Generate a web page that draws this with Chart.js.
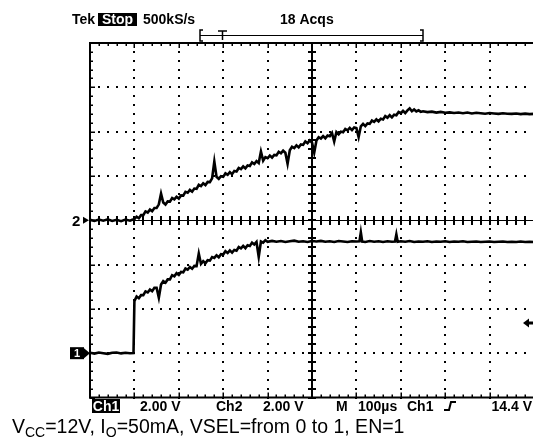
<!DOCTYPE html>
<html>
<head>
<meta charset="utf-8">
<script src="https://cdn.jsdelivr.net/npm/chart.js@4.4.1/dist/chart.umd.min.js"></script>
<style>
html,body{margin:0;padding:0;background:#fff;overflow:hidden;width:533px;height:442px;}
#wrap{position:absolute;left:0;top:0;width:540px;height:442px;}
</style>
</head>
<body>
<div id="wrap"><canvas id="c"></canvas></div>
<script>
// ---- data (time in microseconds, 100 us/div; volts, 2 V/div) ----
const ch1Times = [0,10,20,30,40,50,60,70,80,90,98,100,
  105,110,115,120,125,130,135,140,145,150,155,160,165,170,175,180,185,190,195,
  200,205,210,215,220,225,230,235,240,245,250,255,260,265,270,275,280,285,290,295,
  300,305,310,315,320,325,330,335,340,345,350,355,360,365,370,375,380,385,390,395,400,
  410,420,430,440,450,460,470,480,490,500,
  510,520,530,540,550,560,570,580,590,600,
  607,610,613,620,630,640,650,660,670,680,
  687,690,693,700,710,720,730,740,750,760,
  770,780,790,800,810,820,830,840,850,860,
  870,880,890,900,910,920,930,940,950,960,
  970,980,990,1000];

const ch1Volts = [0.02,-0.02,0.03,0,-0.03,0.02,0.03,-0.01,0.02,0,0.01,2.35,
  2.56,2.48,2.62,2.62,2.79,2.74,2.87,2.8,2.95,2.95,2.5,3.1,3.25,3.18,3.33,3.33,3.52,3.47,3.61,
  3.53,3.67,3.65,3.82,3.77,3.89,3.81,3.94,3.93,4.5,4.03,4.15,4.06,4.2,4.18,4.34,4.3,4.42,4.33,4.47,
  4.45,4.6,4.52,4.64,4.54,4.66,4.63,4.79,4.73,4.84,4.74,4.87,4.84,4.99,4.91,5.02,4.35,5.04,4.99,5.1,5.03,
  5.07,5.03,5.06,5.02,5.05,5.08,5.03,5.05,5.02,5.06,
  5.04,5.07,5.03,5.05,5.02,5.06,5.04,5.02,5.05,5.04,
  5.05,5.45,5.04,5.02,5.06,5.03,5.05,5.02,5.05,5.03,
  5.04,5.36,5.03,5.05,5.03,5.06,5.02,5.04,5.03,5.05,
  5.02,5.04,5.03,5.05,5.02,5.04,5.03,5.05,5.02,5.03,
  5.04,5.02,5.03,5.04,5.02,5.03,5.04,5.02,5.03,5.02,
  5.04,5.02,5.03,5.02];

const ch2Times = [0,10,20,30,40,50,60,70,80,90,95,
  100,105,110,115,120,125,130,135,140,145,150,155,160,165,170,175,180,185,190,195,
  200,205,210,215,220,225,230,235,240,245,250,255,260,265,270,275,280,285,290,295,
  300,305,310,315,320,325,330,335,340,345,350,355,360,365,370,375,380,385,390,395,
  400,405,410,415,420,425,430,435,440,445,450,455,460,465,470,475,480,485,490,495,
  500,505,510,515,520,525,530,535,540,545,550,555,560,565,570,575,580,585,590,595,
  600,605,610,615,620,625,630,635,640,645,650,655,660,665,670,675,680,685,690,695,
  700,705,710,715,720,725,730,735,740,745,750,
  760,770,780,790,800,810,820,830,840,850,860,870,880,890,900,
  910,920,930,940,950,960,970,980,990,1000];

const ch2Volts = [0.02,-0.03,0.03,-0.02,0.04,-0.03,0.02,-0.04,0.03,-0.02,0.02,
  0.05,0.16,0.09,0.23,0.23,0.4,0.35,0.48,0.41,0.55,0.55,0.72,1.2,0.8,0.71,0.85,0.84,1.0,0.94,1.06,
  0.98,1.12,1.11,1.28,1.24,1.37,1.29,1.43,1.42,1.6,1.54,1.67,1.59,1.73,1.72,1.89,2.65,1.96,1.87,1.99,
  1.96,2.12,2.05,2.17,2.08,2.22,2.2,2.36,2.31,2.43,2.34,2.47,2.45,2.61,2.54,2.67,2.58,3.1,2.69,2.85,
  2.8,2.92,2.83,2.95,2.93,3.09,3.02,3.14,3.05,2.55,3.16,3.32,3.26,3.38,3.29,3.42,3.4,3.56,3.48,3.6,
  3.51,3.05,3.6,3.75,3.69,3.8,3.7,3.82,3.79,3.94,3.55,3.98,3.88,4.0,3.97,4.12,4.06,4.17,4.07,4.19,
  4.16,3.75,4.24,4.35,4.25,4.37,4.35,4.5,4.44,4.55,4.46,4.58,4.55,4.7,4.63,4.74,4.64,4.76,4.74,4.89,
  4.83,4.94,4.84,4.96,5.05,4.92,5.0,4.91,4.96,4.89,4.92,
  4.88,4.9,4.86,4.89,4.85,4.87,4.84,4.86,4.83,4.86,4.82,4.85,4.83,4.81,4.84,
  4.82,4.8,4.83,4.81,4.8,4.82,4.79,4.81,4.79,4.8];

const topLabels = ["Tek", "Stop", "500kS/s", "18 Acqs"];
const bottomLabels = ["Ch1", "2.00 V", "Ch2", "2.00 V", "M", "100\u00b5s", "Ch1", "14.4 V"];

// ---- graticule / annotations plugin ----
const scopePlugin = {
  id: 'scope',
  beforeDatasetsDraw(chart) {
    const ctx = chart.ctx, xs = chart.scales.x, ys = chart.scales.y2;
    const a = chart.chartArea;
    const X = v => xs.getPixelForValue(v);
    const Y = v => ys.getPixelForValue(v);
    ctx.save();
    ctx.fillStyle = '#000';
    for (let i = 1; i <= 9; i++) {
      if (i === 5) continue;
      const x = Math.round(X(i * 100));
      for (let m = -20; m <= 20; m++) {
        const y = Math.round(Y(m * 0.4));
        ctx.fillRect(x - 1, y - 1, 2, 2);
      }
    }
    for (let j = -3; j <= 3; j++) {
      if (j === 0) continue;
      const y = Math.round(Y(j * 2));
      for (let m = 0; m <= 50; m++) {
        const x = Math.round(X(m * 20));
        ctx.fillRect(x - 1, y - 1, 2, 2);
      }
    }
    const y0 = Math.round(Y(0));
    ctx.fillRect(a.left, y0, a.right - a.left, 1);
    for (let m = 0; m <= 50; m++) {
      const x = Math.round(X(m * 20));
      ctx.fillRect(x - 1, y0 - 4, 2, 9);
    }
    const x0 = Math.round(X(500));
    ctx.fillRect(x0 - 1, a.top, 2, a.bottom - a.top);
    for (let m = -20; m <= 20; m++) {
      const y = Math.round(Y(m * 0.4));
      ctx.fillRect(x0 - 4, y - 1, 8, 2);
    }
    ctx.fillRect(a.left - 1, a.top - 1, 2, a.bottom - a.top + 2);
    ctx.fillRect(a.left - 1, a.top - 1, a.right - a.left + 2, 2);
    ctx.fillRect(a.left - 1, a.bottom - 1, a.right - a.left + 2, 2);
    for (let m = 0; m <= 50; m++) {
      const x = Math.round(X(m * 20));
      const len = (m % 5 === 0) ? 5 : 3;
      ctx.fillRect(x - 0.5, a.top, 1.5, len);
      ctx.fillRect(x - 0.5, a.bottom - len, 1.5, len);
    }
    for (let m = -20; m <= 20; m++) {
      const y = Math.round(Y(m * 0.4));
      const len = (m % 5 === 0) ? 5 : 3;
      ctx.fillRect(a.left, y - 0.5, len, 1.5);
    }
    ctx.restore();
  },
  afterDraw(chart) {
    const ctx = chart.ctx, y1 = chart.scales.y1, y2 = chart.scales.y2;
    ctx.save();
    ctx.fillStyle = '#000';
    ctx.strokeStyle = '#000';
    ctx.textBaseline = 'alphabetic';
    const F = 'bold 14px "Liberation Sans", Arial, sans-serif';
    ctx.font = F;
    // top row
    const tb = 24;
    ctx.fillText(topLabels[0], 72, tb);
    ctx.fillRect(98, 13, 39, 13);
    ctx.fillStyle = '#fff';
    ctx.textAlign = 'center';
    ctx.fillText(topLabels[1], 117.5, tb);
    ctx.fillStyle = '#000';
    ctx.textAlign = 'left';
    ctx.fillText(topLabels[2], 143, tb);
    ctx.fillText(topLabels[3], 280, tb);
    // record bracket
    ctx.lineWidth = 1.5;
    ctx.beginPath();
    ctx.moveTo(203, 30); ctx.lineTo(200, 30); ctx.lineTo(200, 41); ctx.lineTo(203, 41);
    ctx.moveTo(420, 30); ctx.lineTo(423, 30); ctx.lineTo(423, 41); ctx.lineTo(420, 41);
    ctx.stroke();
    ctx.lineWidth = 1;
    ctx.beginPath();
    ctx.moveTo(200, 35.5); ctx.lineTo(423, 35.5);
    ctx.stroke();
    ctx.lineWidth = 1.5;
    ctx.beginPath();
    ctx.moveTo(218, 31); ctx.lineTo(227, 31);
    ctx.moveTo(222.5, 31); ctx.lineTo(222.5, 40);
    ctx.stroke();
    // channel ground markers
    const g2 = y2.getPixelForValue(0);
    ctx.font = 'bold 15px "Liberation Sans", Arial, sans-serif';
    ctx.fillText('2', 72, g2 + 5.5);
    ctx.beginPath(); ctx.moveTo(83, g2 - 3.5); ctx.lineTo(89, g2); ctx.lineTo(83, g2 + 3.5); ctx.closePath(); ctx.fill();
    const g1 = y1.getPixelForValue(0);
    ctx.fillRect(70, g1 - 6, 14, 12);
    ctx.beginPath(); ctx.moveTo(84, g1 - 5); ctx.lineTo(90, g1); ctx.lineTo(84, g1 + 5); ctx.closePath(); ctx.fill();
    ctx.fillStyle = '#fff';
    ctx.font = 'bold 11px "Liberation Sans", Arial, sans-serif';
    ctx.fillText('1', 74, g1 + 4);
    ctx.fillStyle = '#000';
    // trigger level marker (right)
    const ty = 323;
    ctx.beginPath(); ctx.moveTo(523, ty); ctx.lineTo(529, ty - 4.5); ctx.lineTo(529, ty + 4.5); ctx.closePath(); ctx.fill();
    ctx.fillRect(528, ty - 1.5, 5, 3);
    // bottom row
    const bb = 411;
    ctx.font = F;
    ctx.fillRect(92, 399, 28, 14);
    ctx.fillStyle = '#fff';
    ctx.textAlign = 'center';
    ctx.fillText(bottomLabels[0], 106, bb);
    ctx.fillStyle = '#000';
    ctx.textAlign = 'left';
    ctx.fillText(bottomLabels[1], 140, bb);
    ctx.fillText(bottomLabels[2], 216, bb);
    ctx.fillText(bottomLabels[3], 263, bb);
    ctx.fillText(bottomLabels[4], 336, bb);
    ctx.fillText(bottomLabels[5], 358, bb);
    ctx.fillText(bottomLabels[6], 407, bb);
    ctx.lineWidth = 2;
    ctx.beginPath();
    ctx.moveTo(444, bb - 1); ctx.lineTo(449, bb - 1); ctx.lineTo(451, bb - 9); ctx.lineTo(456, bb - 9);
    ctx.stroke();
    ctx.textAlign = 'right';
    ctx.fillText(bottomLabels[7], 532, bb);
    ctx.textAlign = 'left';
    // caption with subscripts
    const fs = 19.5;
    const main = fs + 'px "Liberation Sans", Arial, sans-serif';
    const sub = Math.round(fs * 0.72) + 'px "Liberation Sans", Arial, sans-serif';
    const parts = [['V', 0], ['CC', 1], ['=12V, I', 0], ['O', 1], ['=50mA, VSEL=from 0 to 1, EN=1', 0]];
    let cx = 12; const cb = 433;
    for (const [t, s] of parts) {
      ctx.font = s ? sub : main;
      ctx.fillText(t, cx, s ? cb + 4 : cb);
      cx += ctx.measureText(t).width;
    }
    ctx.restore();
  }
};

const ctx = document.getElementById('c').getContext('2d');
new Chart(ctx, {
  type: 'line',
  data: {
    datasets: [
      { label: 'Ch1', data: ch1Times.map((t, i) => ({ x: t, y: ch1Volts[i] })), yAxisID: 'y1',
        borderColor: '#000', borderWidth: 2.6, pointRadius: 0, tension: 0, fill: false },
      { label: 'Ch2', data: ch2Times.map((t, i) => ({ x: t, y: ch2Volts[i] })), yAxisID: 'y2',
        borderColor: '#000', borderWidth: 2.6, pointRadius: 0, tension: 0, fill: false }
    ]
  },
  options: {
    responsive: true,
    maintainAspectRatio: false,
    animation: false,
    devicePixelRatio: 1,
    layout: { padding: { left: 90, top: 43, right: 6, bottom: 44.5 } },
    plugins: { legend: { display: false }, tooltip: { enabled: false } },
    scales: {
      x: { type: 'linear', min: 0, max: 1000, display: false },
      y1: { type: 'linear', min: -2, max: 14, display: false },
      y2: { type: 'linear', min: -8, max: 8, display: false }
    }
  },
  plugins: [scopePlugin]
});
</script>
</body>
</html>
